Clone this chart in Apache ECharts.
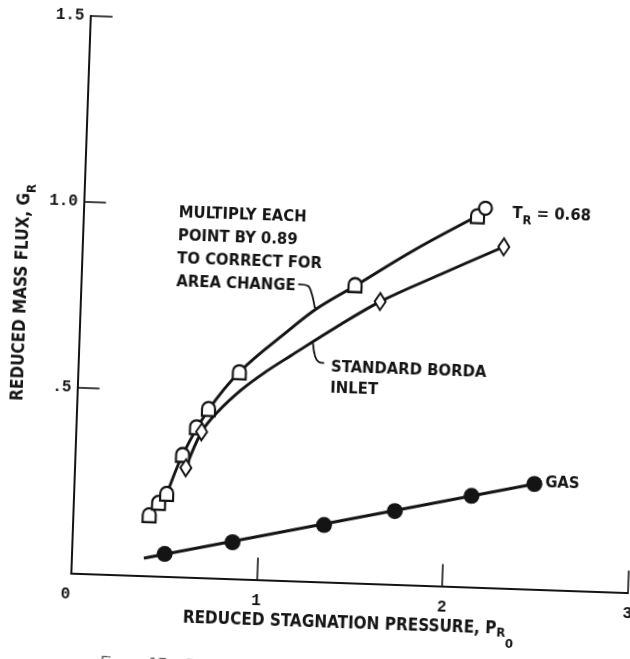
<!DOCTYPE html>
<html>
<head>
<meta charset="utf-8">
<script src="https://cdn.jsdelivr.net/npm/echarts/dist/echarts.min.js"></script>
<style>
  html, body { margin: 0; padding: 0; width: 630px; height: 659px; overflow: hidden; background: #fff; }
  /* the printed figure sits slightly askew on the page */
  #chart { position: absolute; left: 0; top: 0; width: 700px; height: 700px;
           transform-origin: 315px 329.5px; transform: rotate(2deg); background: #fff; }
</style>
</head>
<body>
<div id="chart"></div>
<script>
// Axis tick labels
const xTickValues = [0, 1, 2, 3];
const xTickLabels = ['0', '1', '2', '3'];
const yTickValues = [0, 0.5, 1.0, 1.5];
const yTickLabels = ['', '.5', '1.0', '1.5'];

// Measured points, T_R = 0.68, inlet with area change (open squares)
const areaX = [0.410, 0.458, 0.500, 0.578, 0.648, 0.709, 0.868, 1.474, 2.120];
const areaY = [0.163, 0.197, 0.222, 0.328, 0.404, 0.454, 0.556, 0.801, 0.998];
// Open circle point
const circleX = [2.161];
const circleY = [1.020];
// Faired curve through the area-change points
const areaFitX = [0.495, 0.578, 0.708, 0.879, 1.123, 1.269, 1.474, 1.783, 2.140];
const areaFitY = [0.212, 0.328, 0.451, 0.562, 0.672, 0.733, 0.799, 0.900, 1.004];

// Standard Borda inlet (open diamonds)
const bordaX = [0.598, 0.676, 1.612, 2.267];
const bordaY = [0.294, 0.392, 0.759, 0.918];
const bordaFitX = [0.598, 0.676, 0.760, 0.880, 1.000, 1.144, 1.380, 1.612, 1.932, 2.267];
const bordaFitY = [0.294, 0.392, 0.448, 0.508, 0.556, 0.606, 0.686, 0.759, 0.838, 0.918];

// Gas (solid circles)
const gasX = [0.500, 0.863, 1.352, 1.730, 2.140, 2.476];
const gasY = [0.060, 0.098, 0.153, 0.197, 0.245, 0.283];
const gasFitX = [0.389, 2.476];
const gasFitY = [0.047, 0.283];

const zip = (xs, ys) => xs.map((x, i) => [x, ys[i]]);

const INK = '#141414';
const LABEL_FONT = '"DejaVu Sans Condensed", "DejaVu Sans", sans-serif';
const NUM_FONT = '"Liberation Mono", "DejaVu Sans Mono", monospace';

// square with a rounded top
const flagSymbol = 'path://M0,6 A6,6 0 0 1 12,6 L12,13 L0,13 Z';

const chart = echarts.init(document.getElementById('chart'), null, { renderer: 'canvas' });

const openStyle = { color: '#fff', borderColor: INK, borderWidth: 2.2, opacity: 1 };

const option = {
  animation: false,
  backgroundColor: '#fff',
  grid: { left: 77.6, top: 24, right: 63, bottom: 118.6, containLabel: false },
  xAxis: {
    type: 'value', min: 0, max: 3, interval: 1,
    axisLine: { show: true, lineStyle: { color: INK, width: 2 } },
    axisTick: { show: true, inside: true, length: 22, lineStyle: { color: INK, width: 1.6 } },
    splitLine: { show: false },
    axisLabel: {
      color: INK, fontFamily: NUM_FONT, fontSize: 16, fontWeight: 'bold', margin: 14,
      alignMinLabel: 'right',
      formatter: v => xTickLabels[xTickValues.indexOf(v)]
    },
    name: 'REDUCED STAGNATION PRESSURE, P{sub|R}{sub2|0}',
    nameLocation: 'middle', nameGap: 26, nameMoveOverlap: false,
    nameTextStyle: {
      color: INK, fontFamily: LABEL_FONT, fontSize: 17, fontWeight: 'bold', lineHeight: 30, verticalAlign: 'top',
      rich: {
        sub: { fontFamily: LABEL_FONT, fontSize: 13, fontWeight: 'bold', color: INK, verticalAlign: 'bottom', lineHeight: 30, padding: [0, 0, 4, 0] },
        sub2: { fontFamily: LABEL_FONT, fontSize: 13, fontWeight: 'bold', color: INK, verticalAlign: 'bottom', lineHeight: 30, padding: [0, 0, -7, 0] }
      }
    }
  },
  yAxis: {
    type: 'value', min: 0, max: 1.5, interval: 0.5,
    axisLine: { show: true, lineStyle: { color: INK, width: 2 } },
    axisTick: { show: true, inside: true, length: 22, lineStyle: { color: INK, width: 1.6 } },
    splitLine: { show: false },
    axisLabel: {
      color: INK, fontFamily: NUM_FONT, fontSize: 16, fontWeight: 'bold', margin: 6,
      formatter: v => yTickLabels[yTickValues.indexOf(v)]
    },
    name: 'REDUCED MASS FLUX, G{sub|R}',
    nameLocation: 'middle', nameGap: 43,
    nameTextStyle: {
      color: INK, fontFamily: LABEL_FONT, fontSize: 17, fontWeight: 'bold', lineHeight: 26,
      rich: {
        sub: { fontFamily: LABEL_FONT, fontSize: 13, fontWeight: 'bold', color: INK, verticalAlign: 'bottom', lineHeight: 26 }
      }
    }
  },
  series: [
    { type: 'line', data: zip(areaFitX, areaFitY), symbol: 'none', smooth: 0.35, silent: true, z: 2,
      lineStyle: { color: INK, width: 2.9 } },
    { type: 'line', data: zip(bordaFitX, bordaFitY), symbol: 'none', smooth: 0.35, silent: true, z: 2,
      lineStyle: { color: INK, width: 2.9 } },
    { type: 'line', data: zip(gasFitX, gasFitY), symbol: 'none', silent: true, z: 2,
      lineStyle: { color: INK, width: 3 } },
    { type: 'scatter', data: zip(areaX, areaY), symbol: flagSymbol, symbolSize: [13, 14], z: 4,
      itemStyle: openStyle },
    { type: 'scatter', data: zip(circleX, circleY), symbol: 'circle', symbolSize: 13, z: 4,
      itemStyle: openStyle },
    { type: 'scatter', data: zip(bordaX, bordaY), symbol: 'diamond', symbolSize: [11, 17], z: 4,
      itemStyle: Object.assign({}, openStyle, { borderWidth: 2 }) },
    { type: 'scatter', data: zip(gasX, gasY), symbol: 'circle', symbolSize: 16, z: 4,
      itemStyle: { color: INK, opacity: 1 } }
  ]
};
chart.setOption(option);

// Annotations, anchored in data units
const toPx = p => chart.convertToPixel({ gridIndex: 0 }, p);
const noteAnchor = [0.512, 1.009];
const bordaNoteAnchor = [1.360, 0.607];
const tempAnchor = [2.307, 1.007];
const gasAnchor = [2.534, 0.287];
const noteLeader = [[1.168, 0.798], [1.222, 0.794], [1.245, 0.770], [1.262, 0.735]];
const bordaLeader = [[1.258, 0.641], [1.272, 0.606], [1.292, 0.591], [1.322, 0.589]];

const NOTE_FONT = 'bold 16.5px ' + LABEL_FONT;
const textStyle = (extra) => Object.assign({ fill: INK, font: NOTE_FONT }, extra);

const graphics = [];
let p = toPx(noteAnchor);
graphics.push({ type: 'text', x: p[0], y: p[1], z: 10, silent: true,
  style: textStyle({ text: 'MULTIPLY EACH\nPOINT BY 0.89\nTO CORRECT FOR\nAREA CHANGE', lineHeight: 23,
    align: 'left', verticalAlign: 'top' }) });
p = toPx(bordaNoteAnchor);
graphics.push({ type: 'text', x: p[0], y: p[1], z: 10, silent: true,
  style: textStyle({ text: 'STANDARD BORDA\nINLET', lineHeight: 21, align: 'left', verticalAlign: 'top' }) });
p = toPx(tempAnchor);
graphics.push({ type: 'text', x: p[0], y: p[1], z: 10, silent: true,
  style: textStyle({ text: 'T{sub|R} = 0.68', align: 'left', verticalAlign: 'middle', lineHeight: 26,
    rich: { sub: { font: 'bold 13px ' + LABEL_FONT, fill: INK, verticalAlign: 'bottom', lineHeight: 26 } } }) });
p = toPx(gasAnchor);
graphics.push({ type: 'text', x: p[0], y: p[1], z: 10, silent: true,
  style: textStyle({ text: 'GAS', align: 'left', verticalAlign: 'middle' }) });
graphics.push({ type: 'polyline', z: 10, silent: true, shape: { points: noteLeader.map(toPx), smooth: 0.3 },
  style: { stroke: INK, lineWidth: 1.8, fill: null } });
graphics.push({ type: 'polyline', z: 10, silent: true, shape: { points: bordaLeader.map(toPx), smooth: 0.4 },
  style: { stroke: INK, lineWidth: 1.8, fill: null } });
// figure caption, cut by the page edge
graphics.push({ type: 'text', x: 112, y: 671, z: 10, silent: true,
  style: { text: 'Figure 17. - Reduced', fill: '#555', font: '16px ' + LABEL_FONT, align: 'left', verticalAlign: 'middle' } });

chart.setOption({ graphic: graphics });
</script>
</body>
</html>
